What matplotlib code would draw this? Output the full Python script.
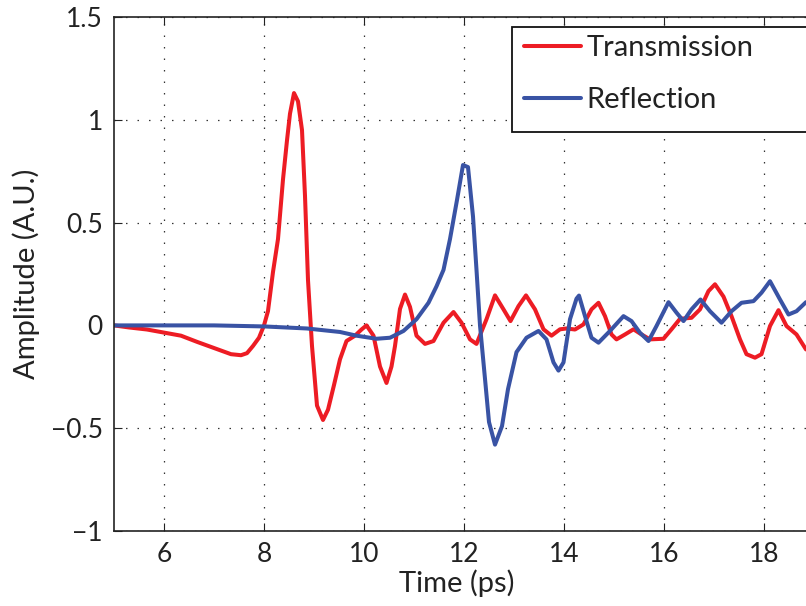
import matplotlib
matplotlib.use("Agg")
import matplotlib.pyplot as plt
from matplotlib.patches import Rectangle

plt.rcParams['font.family'] = ['Lato', 'DejaVu Sans']

trans_t = [5.00, 5.30, 5.66, 6.00, 6.34, 6.66, 7.00, 7.34, 7.54, 7.66, 7.78, 7.90,
           8.00, 8.08, 8.18, 8.28, 8.38, 8.46, 8.52, 8.60, 8.68, 8.76, 8.82, 8.88,
           8.96, 9.06, 9.18, 9.28, 9.40, 9.52, 9.65, 9.82, 9.95, 10.05, 10.19, 10.32,
           10.45, 10.55, 10.62, 10.72, 10.82, 10.92, 11.05, 11.22, 11.39, 11.59,
           11.79, 11.95, 12.12, 12.25, 12.45, 12.62, 12.79, 12.93, 13.09, 13.24,
           13.42, 13.59, 13.75, 13.92, 14.05, 14.22, 14.39, 14.55, 14.69, 14.82,
           14.95, 15.05, 15.22, 15.39, 15.55, 15.72, 15.99, 16.15, 16.32, 16.55,
           16.72, 16.89, 17.02, 17.19, 17.35, 17.52, 17.65, 17.82, 17.95, 18.12,
           18.29, 18.45, 18.65, 18.84]
trans_a = [0.00, -0.01, -0.02, -0.035, -0.05, -0.08, -0.11, -0.14, -0.145, -0.135, -0.10, -0.06,
           0.00, 0.07, 0.26, 0.42, 0.71, 0.90, 1.03, 1.13, 1.09, 0.95, 0.63, 0.22,
           -0.10, -0.39, -0.46, -0.41, -0.29, -0.165, -0.076, -0.05, -0.02, 0.00, -0.05, -0.20,
           -0.28, -0.20, -0.10, 0.08, 0.15, 0.09, -0.05, -0.09, -0.076, 0.013,
           0.065, 0.013, -0.068, -0.09, 0.03, 0.146, 0.078, 0.021, 0.094, 0.146,
           0.078, -0.019, -0.05, -0.019, -0.015, -0.02, 0.005, 0.078, 0.11, 0.045,
           -0.044, -0.068, -0.044, -0.019, -0.044, -0.068, -0.065, -0.019, 0.032, 0.037,
           0.078, 0.167, 0.20, 0.14, 0.045, -0.068, -0.14, -0.157, -0.14, -0.003,
           0.074, -0.003, -0.044, -0.117]

refl_t = [5.00, 6.00, 7.00, 8.00, 8.86, 9.52, 9.85, 10.25, 10.52, 10.79, 11.05, 11.29,
          11.45, 11.59, 11.72, 11.86, 11.98, 12.08, 12.18, 12.25, 12.32, 12.42, 12.50,
          12.62, 12.76, 12.88, 13.05, 13.25, 13.49, 13.65, 13.79, 13.89, 13.99, 14.12,
          14.25, 14.30, 14.42, 14.55, 14.69, 14.92, 15.19, 15.35, 15.52, 15.69, 15.85,
          16.09, 16.25, 16.39, 16.55, 16.73, 16.92, 17.15, 17.35, 17.55, 17.79, 17.95,
          18.12, 18.32, 18.49, 18.65, 18.84]
refl_a = [0.00, 0.00, 0.00, -0.005, -0.015, -0.032, -0.05, -0.065, -0.06, -0.027, 0.03, 0.11,
          0.19, 0.27, 0.42, 0.61, 0.78, 0.77, 0.53, 0.27, 0.00, -0.26, -0.47,
          -0.58, -0.49, -0.31, -0.13, -0.06, -0.027, -0.068, -0.18, -0.22, -0.18, 0.03,
          0.13, 0.145, 0.045, -0.06, -0.084, -0.027, 0.045, 0.021, -0.036, -0.076, -0.003,
          0.113, 0.062, 0.021, 0.078, 0.126, 0.069, 0.013, 0.069, 0.11, 0.118, 0.159,
          0.215, 0.126, 0.053, 0.069, 0.113]

series_labels = ["Transmission", "Reflection"]
xticks = [6, 8, 10, 12, 14, 16, 18]
yticks = [-1, -0.5, 0, 0.5, 1, 1.5]
ytick_labels = ["\u22121", "\u22120.5", "0", "0.5", "1", "1.5"]

W, H = 806, 606
fig = plt.figure(figsize=(W / 100, H / 100), dpi=100)
ax = fig.add_axes([114 / W, 75 / H, 750 / W, 514 / H])

red = "#ED1C24"
blue = "#3953A4"
ax.plot(trans_t, trans_a, color=red, lw=2.9, label=series_labels[0],
        solid_joinstyle="round", solid_capstyle="round")
ax.plot(refl_t, refl_a, color=blue, lw=2.9, label=series_labels[1],
        solid_joinstyle="round", solid_capstyle="round")

ax.set_xlim(5, 20)
ax.set_ylim(-1, 1.5)
ax.set_xticks(xticks + [20])
ax.set_xticklabels([str(v) for v in xticks] + [""])
ax.set_yticks(yticks)
ax.set_yticklabels(ytick_labels)
ax.grid(True, color="#333333", linestyle=(0, (1.2, 8)), linewidth=0.9)
ax.tick_params(direction="in", length=6, width=0.8, top=True, right=True,
               labelsize=19, pad=8, colors="#222222")
for sp in ax.spines.values():
    sp.set_linewidth(1.2)
    sp.set_color("#222222")

ax.set_xlabel("Time (ps)", fontsize=21, labelpad=0, color="#222222")
ax.xaxis.set_label_coords((457 - 114) / 750, -0.075)
ax.set_ylabel("Amplitude (A.U.)", fontsize=21, labelpad=8, color="#222222")

# legend frame (extends beyond the figure edge like the reference)
rect = Rectangle((512 / W, 1 - 132 / H), 360 / W, 105 / H, transform=fig.transFigure,
                 facecolor="white", edgecolor="#111111", linewidth=1.3, zorder=5)
fig.patches.append(rect)
leg = fig.legend(loc="upper left", bbox_to_anchor=(515 / W, 1 - 26 / H),
                 bbox_transform=fig.transFigure, frameon=False, fontsize=21,
                 handlelength=1.95, handletextpad=0.2, labelspacing=0.9,
                 borderpad=0.3, borderaxespad=0)
leg.set_zorder(6)
for t in leg.get_texts():
    t.set_color("#222222")

fig.savefig("out.png", dpi=100)
